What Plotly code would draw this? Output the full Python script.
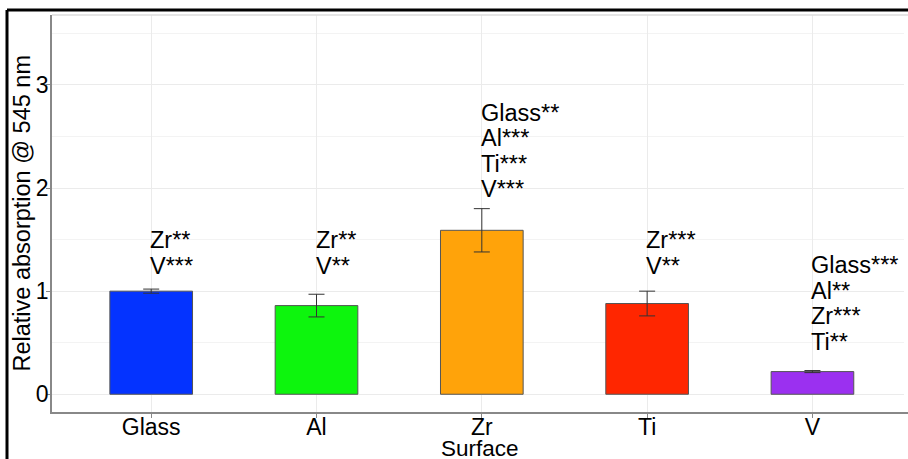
import plotly.graph_objects as go

surfaces = ["Glass", "Al", "Zr", "Ti", "V"]
means = [1.00, 0.86, 1.59, 0.88, 0.22]
errors = [0.02, 0.11, 0.21, 0.12, 0.01]
colors = ["#0433FF", "#0DF50D", "#FFA30A", "#FF2600", "#9B30F0"]
sig_labels = [
    ["Zr**", "V***"],
    ["Zr**", "V**"],
    ["Glass**", "Al***", "Ti***", "V***"],
    ["Zr***", "V**"],
    ["Glass***", "Al**", "Zr***", "Ti**"],
]
label_base = [1.17, 1.17, 1.91, 1.17, 0.43]

FONT = "Liberation Sans, Arial, sans-serif"
W, H = 908, 459
L, R, T, B = 52, 0, 15, 47

fig = go.Figure()
fig.add_trace(go.Bar(
    x=surfaces, y=means, width=0.5,
    marker=dict(color=colors, line=dict(color="#555555", width=1)),
    error_y=dict(type="data", array=errors, visible=True,
                 color="#333333", thickness=1, width=8),
    showlegend=False,
))

annotations = []
line_pitch = 25.5
for i, (lab, base) in enumerate(zip(sig_labels, label_base)):
    n = len(lab)
    for j, t in enumerate(lab):
        annotations.append(dict(
            x=surfaces[i], y=base, xref="x", yref="y", text=t,
            showarrow=False, xanchor="left", yanchor="bottom",
            xshift=-3, yshift=(n - 1 - j) * line_pitch - 7,
            font=dict(family=FONT, size=23.5, color="black"),
        ))

# axis titles
annotations.append(dict(
    x=0.5, y=0, xref="paper", yref="paper", text="Surface",
    showarrow=False, xanchor="center", yanchor="top", yshift=-22,
    font=dict(family=FONT, size=22.5, color="black"),
))
annotations.append(dict(
    x=0, y=0.5, xref="paper", yref="paper", text="Relative absorption @ 545 nm",
    showarrow=False, xanchor="center", yanchor="middle", xshift=-31, textangle=-90,
    font=dict(family=FONT, size=23.5, color="black"),
))

pw = W - L - R
ph = H - T - B
shapes = [
    # outer black frame (left and top edges visible)
    dict(type="line", xref="paper", yref="paper",
         x0=(7 - L) / pw, x1=(7 - L) / pw, y0=-0.3, y1=(H - B - 10) / ph,
         line=dict(color="black", width=3)),
    dict(type="line", xref="paper", yref="paper",
         x0=(7 - L) / pw, x1=1.2, y0=(H - B - 10) / ph, y1=(H - B - 10) / ph,
         line=dict(color="black", width=3)),
    # mask the right edge of the panel
    dict(type="rect", xref="paper", yref="paper", layer="above",
         x0=1 - 4 / pw, x1=1.02, y0=0.006, y1=0.996,
         line=dict(width=0), fillcolor="white"),
    # panel top edge
    dict(type="line", xref="paper", yref="paper",
         x0=0, x1=1, y0=1, y1=1, line=dict(color="#DDDDDD", width=1.5)),
]

fig.update_layout(
    width=W, height=H,
    margin=dict(l=L, r=R, t=T, b=B, pad=0),
    paper_bgcolor="white", plot_bgcolor="white",
    font=dict(family=FONT, size=23, color="black"),
    annotations=annotations, shapes=shapes,
)
fig.update_xaxes(
    type="category", range=[-0.6, 4.578],
    tickvals=surfaces,
    showgrid=True, gridcolor="#EBEBEB", gridwidth=1,
    showline=True, linecolor="#888888", linewidth=1.5,
    ticks="outside", ticklen=4, tickcolor="#888888",
    tickfont=dict(family=FONT, size=23, color="black"),
    ticklabelstandoff=-10,
    zeroline=False, mirror=False,
)
fig.update_yaxes(
    range=[-0.172, 3.678], tickvals=[0, 1, 2, 3],
    showgrid=True, gridcolor="#EBEBEB", gridwidth=1,
    minor=dict(tickvals=[0.5, 1.5, 2.5, 3.5], showgrid=True,
               gridcolor="#F3F3F3", gridwidth=1),
    showline=True, linecolor="#888888", linewidth=1.5,
    ticks="outside", ticklen=4, tickcolor="#888888",
    tickfont=dict(family=FONT, size=23, color="black"),
    ticklabelstandoff=-7,
    zeroline=False, mirror=False,
)

fig.write_html("out.html",
               config={"displayModeBar": False},
               post_script=("document.body.style.margin='0';"
                            "document.body.style.overflow='hidden';"
                            "document.documentElement.style.overflow='hidden';"))
